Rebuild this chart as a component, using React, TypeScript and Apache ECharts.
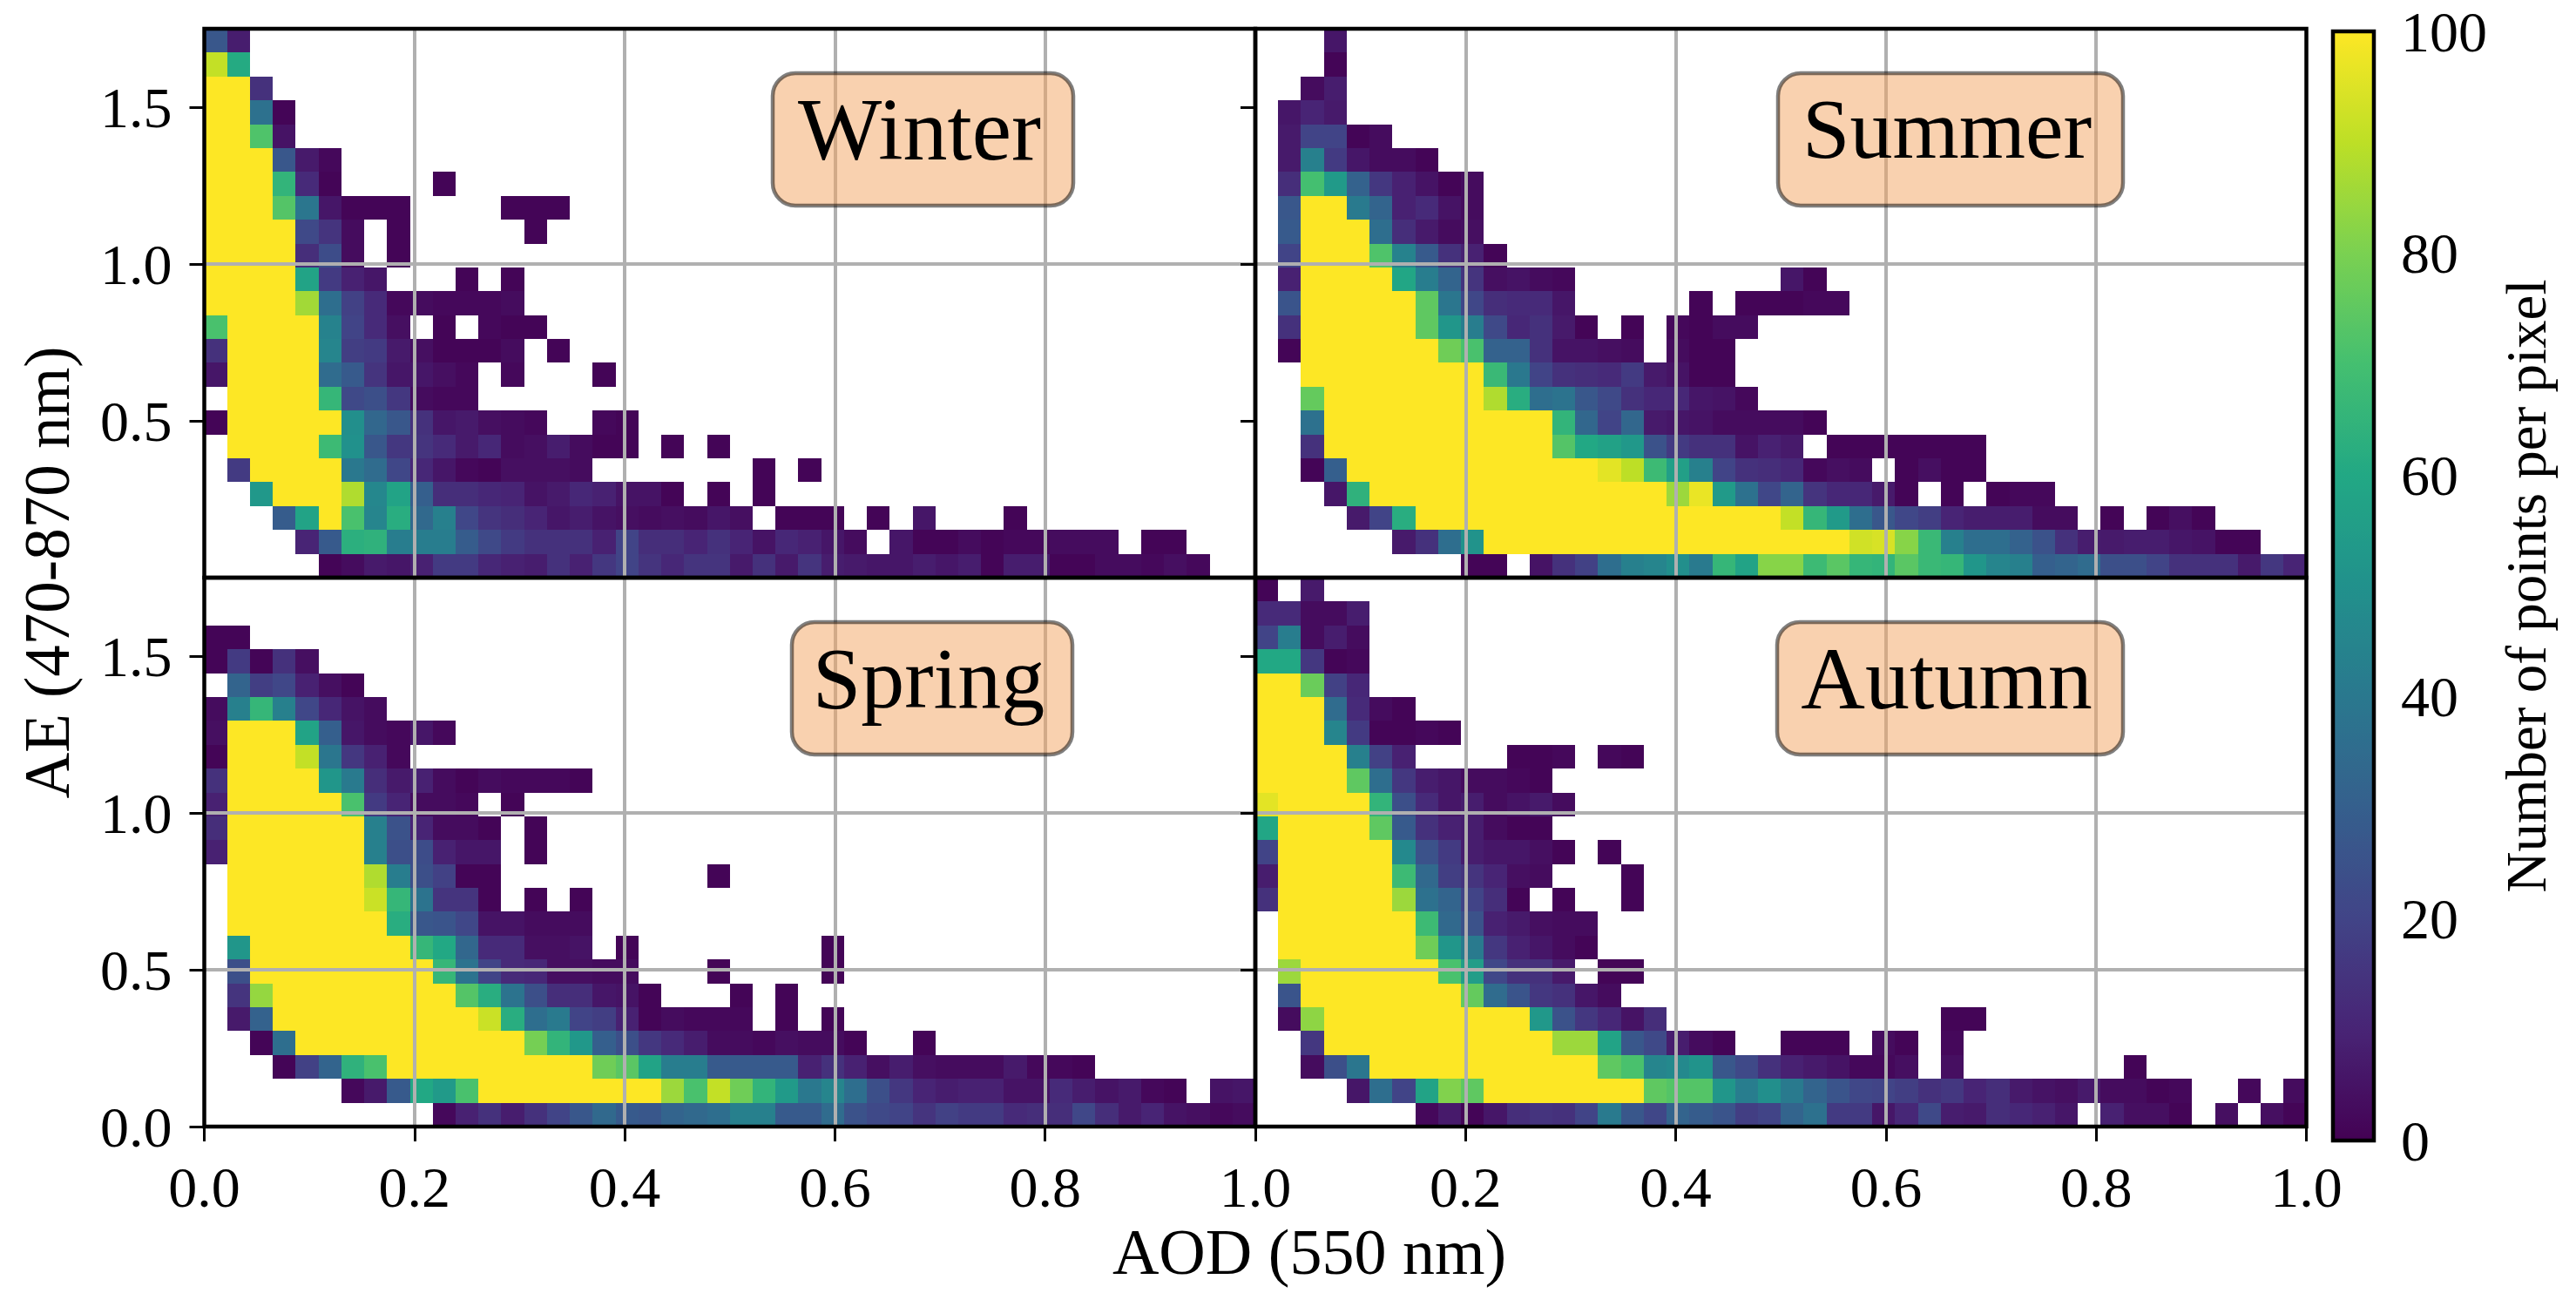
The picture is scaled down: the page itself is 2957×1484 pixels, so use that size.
import React, { useEffect, useRef } from "react";
import * as echarts from "echarts";

const FONT = '"Liberation Serif"';
const CHART_W = 2957;
const CHART_H = 1484;
const COLS = 46;
const ROWS = 23;
const X_MAX = 1;
const Y_MAX = 1.75;

const viridis = ["#440154", "#482475", "#414487", "#355f8d", "#2a788e", "#21918c", "#22a884", "#44bf70", "#7ad151", "#bddf26", "#fde725"];
const yTicksTop = [0.5, 1.0, 1.5];
const yTicksBottom = [0, 0.5, 1.0, 1.5];

// counts per cell, rows top (AE 1.75) to bottom (AE 0); columns AOD 0 to 1
const winter: number[][] = [
  [27, 8],
  [91, 61],
  [100, 100, 14],
  [100, 100, 37, 1],
  [100, 100, 72, 5],
  [100, 100, 100, 27, 7, 2],
  [100, 100, 100, 65, 12, 1, 0, 0, 0, 0, 1],
  [100, 100, 100, 73, 39, 6, 1, 1, 1, 0, 0, 0, 0, 1, 1, 1],
  [100, 100, 100, 100, 22, 15, 3, 0, 1, 0, 0, 0, 0, 0, 1],
  [100, 100, 100, 100, 13, 23, 3, 0, 1],
  [100, 100, 100, 100, 58, 17, 9, 6, 0, 0, 0, 1, 0, 1],
  [100, 100, 100, 100, 86, 36, 19, 12, 2, 3, 2, 2, 2, 3],
  [71, 100, 100, 100, 100, 44, 20, 12, 4, 0, 1, 0, 2, 1, 1],
  [14, 100, 100, 100, 100, 45, 18, 17, 7, 4, 1, 1, 1, 3, 0, 1],
  [6, 100, 100, 100, 100, 35, 28, 15, 6, 6, 4, 2, 0, 2, 0, 0, 0, 1],
  [0, 100, 100, 100, 100, 66, 22, 24, 16, 3, 2, 2],
  [1, 100, 100, 100, 100, 100, 49, 33, 27, 14, 6, 7, 4, 3, 2, 0, 0, 2, 1],
  [0, 100, 100, 100, 100, 68, 50, 27, 16, 15, 12, 7, 11, 3, 4, 8, 3, 1, 1, 0, 1, 0, 1],
  [0, 17, 100, 100, 100, 100, 40, 35, 21, 11, 6, 2, 1, 4, 4, 4, 3, 0, 0, 0, 0, 0, 0, 0, 1, 0, 1],
  [0, 0, 53, 100, 100, 100, 88, 46, 58, 30, 13, 13, 11, 10, 5, 7, 11, 9, 5, 5, 1, 0, 1, 0, 1],
  [0, 0, 0, 29, 58, 100, 71, 45, 62, 34, 43, 21, 15, 13, 10, 6, 8, 5, 4, 3, 4, 3, 6, 4, 0, 1, 1, 1, 0, 1, 0, 6, 0, 0, 0, 1],
  [0, 0, 0, 0, 10, 28, 63, 64, 42, 42, 42, 29, 22, 17, 14, 14, 14, 9, 20, 13, 13, 10, 14, 10, 5, 11, 9, 6, 3, 0, 6, 1, 1, 3, 1, 2, 2, 3, 3, 3, 0, 1, 1],
  [0, 0, 0, 0, 0, 1, 3, 7, 6, 9, 17, 17, 11, 9, 8, 14, 9, 16, 20, 15, 11, 15, 15, 7, 14, 7, 15, 8, 7, 6, 6, 8, 6, 8, 1, 8, 8, 1, 1, 3, 3, 2, 4, 2],
];

const summer: number[][] = [
  [0, 0, 0, 6],
  [0, 0, 0, 1],
  [0, 0, 3, 8],
  [0, 6, 10, 7],
  [0, 7, 20, 20, 1, 3],
  [0, 7, 43, 17, 6, 3, 3, 1],
  [0, 13, 70, 54, 31, 16, 9, 5, 1, 3],
  [0, 27, 100, 100, 41, 32, 9, 12, 5, 3],
  [0, 28, 100, 100, 100, 36, 13, 7, 3, 4],
  [0, 20, 100, 100, 100, 72, 44, 28, 14, 9, 1],
  [0, 9, 100, 100, 100, 100, 59, 42, 32, 15, 4, 5, 3, 2, 0, 0, 0, 0, 0, 0, 0, 0, 0, 6, 1],
  [0, 26, 100, 100, 100, 100, 100, 75, 39, 21, 13, 12, 12, 6, 0, 0, 0, 0, 0, 1, 0, 1, 1, 1, 2, 2],
  [0, 14, 100, 100, 100, 100, 100, 75, 52, 42, 22, 11, 14, 7, 1, 0, 1, 0, 2, 1, 3, 3],
  [0, 1, 100, 100, 100, 100, 100, 100, 78, 71, 31, 31, 14, 5, 5, 4, 3, 0, 3, 1, 1],
  [0, 0, 100, 100, 100, 100, 100, 100, 100, 100, 67, 40, 20, 14, 13, 12, 17, 7, 5, 1, 1],
  [0, 0, 76, 100, 100, 100, 100, 100, 100, 100, 88, 62, 36, 38, 27, 22, 14, 11, 11, 6, 5, 2],
  [0, 0, 37, 100, 100, 100, 100, 100, 100, 100, 100, 100, 100, 65, 33, 20, 33, 7, 6, 5, 3, 3, 3, 3, 1],
  [0, 0, 14, 100, 100, 100, 100, 100, 100, 100, 100, 100, 100, 73, 60, 57, 53, 25, 17, 14, 14, 5, 9, 7, 0, 1, 1, 1, 1, 1, 1, 1],
  [0, 0, 1, 30, 100, 100, 100, 100, 100, 100, 100, 100, 100, 100, 100, 96, 90, 68, 56, 43, 20, 14, 13, 11, 2, 4, 3, 0, 1, 4, 1, 1],
  [0, 0, 0, 6, 64, 100, 100, 100, 100, 100, 100, 100, 100, 100, 100, 100, 100, 100, 85, 97, 54, 37, 21, 32, 15, 11, 11, 7, 1, 0, 1, 0, 1, 2, 2],
  [0, 0, 0, 0, 7, 20, 62, 100, 100, 100, 100, 100, 100, 100, 100, 100, 100, 100, 100, 100, 100, 100, 100, 91, 66, 54, 36, 27, 21, 18, 10, 8, 8, 8, 3, 3, 0, 1, 0, 1, 4, 1],
  [0, 0, 0, 0, 0, 0, 7, 14, 36, 51, 100, 100, 100, 100, 100, 100, 100, 100, 100, 100, 100, 100, 100, 100, 100, 100, 93, 94, 82, 67, 43, 36, 36, 31, 25, 14, 8, 7, 8, 8, 6, 5, 1, 1],
  [0, 0, 0, 0, 0, 0, 0, 0, 0, 1, 1, 0, 5, 14, 19, 36, 43, 45, 49, 41, 66, 58, 82, 82, 68, 74, 66, 65, 74, 67, 66, 52, 45, 43, 30, 32, 35, 24, 24, 20, 14, 14, 14, 7, 16, 10],
];

const spring: number[][] = [
  [],
  [],
  [1, 1],
  [1, 17, 1, 14, 4],
  [0, 32, 18, 21, 9, 4, 1],
  [3, 43, 66, 43, 21, 11, 5, 3],
  [4, 100, 100, 100, 58, 30, 6, 3, 2, 6, 2],
  [1, 100, 100, 100, 91, 39, 16, 9, 2],
  [14, 100, 100, 100, 100, 52, 41, 13, 7, 9, 3, 1, 3, 2, 2, 2, 1],
  [9, 100, 100, 100, 100, 100, 71, 17, 10, 3, 3, 2, 0, 1],
  [13, 100, 100, 100, 100, 100, 100, 43, 25, 10, 3, 3, 1, 0, 1],
  [9, 100, 100, 100, 100, 100, 100, 43, 24, 23, 9, 6, 6, 0, 1],
  [0, 100, 100, 100, 100, 100, 100, 88, 42, 24, 19, 1, 1, 0, 0, 0, 0, 0, 0, 0, 0, 0, 1],
  [0, 100, 100, 100, 100, 100, 100, 92, 66, 38, 15, 15, 1, 0, 1, 0, 1],
  [0, 100, 100, 100, 100, 100, 100, 100, 62, 27, 26, 21, 5, 5, 3, 3, 3],
  [0, 52, 100, 100, 100, 100, 100, 100, 100, 66, 60, 33, 12, 12, 4, 4, 5, 0, 1, 0, 0, 0, 0, 0, 0, 0, 0, 1],
  [0, 24, 100, 100, 100, 100, 100, 100, 100, 100, 66, 38, 20, 12, 11, 4, 4, 3, 3, 0, 0, 0, 1, 0, 0, 0, 0, 1],
  [0, 15, 84, 100, 100, 100, 100, 100, 100, 100, 100, 73, 62, 38, 24, 13, 13, 6, 5, 1, 0, 0, 0, 1, 0, 1],
  [0, 7, 31, 100, 100, 100, 100, 100, 100, 100, 100, 100, 92, 62, 36, 41, 20, 18, 9, 1, 3, 2, 2, 2, 0, 1, 0, 1],
  [0, 0, 1, 36, 100, 100, 100, 100, 100, 100, 100, 100, 100, 100, 79, 65, 53, 30, 24, 16, 12, 8, 3, 3, 2, 4, 3, 3, 1, 0, 0, 1],
  [0, 0, 0, 1, 19, 32, 64, 71, 100, 100, 100, 100, 100, 100, 100, 100, 100, 78, 74, 58, 42, 42, 28, 28, 28, 28, 9, 14, 9, 4, 8, 4, 3, 3, 3, 7, 2, 2, 1],
  [0, 0, 0, 0, 0, 0, 2, 7, 28, 60, 54, 71, 100, 100, 100, 100, 100, 100, 100, 100, 85, 71, 91, 78, 65, 54, 40, 45, 36, 24, 16, 10, 8, 9, 9, 5, 5, 12, 8, 5, 7, 2, 1, 0, 5, 6],
  [0, 0, 0, 0, 0, 0, 0, 0, 0, 0, 2, 9, 14, 8, 14, 20, 27, 34, 28, 27, 32, 34, 36, 43, 43, 28, 28, 35, 25, 22, 20, 15, 19, 17, 17, 12, 13, 13, 21, 13, 7, 10, 5, 4, 2, 3],
];

const autumn: number[][] = [
  [1, 0, 7],
  [12, 12, 3, 3, 8],
  [20, 42, 3, 8, 3],
  [60, 60, 16, 1, 2],
  [100, 100, 77, 19, 11],
  [100, 100, 100, 35, 12, 3, 1],
  [100, 100, 100, 45, 17, 1, 1, 2, 1],
  [100, 100, 100, 100, 43, 19, 9, 0, 0, 0, 0, 1, 1, 2, 0, 2, 1],
  [100, 100, 100, 100, 75, 36, 16, 8, 6, 3, 3, 2, 1],
  [96, 100, 100, 100, 100, 65, 24, 12, 6, 8, 3, 5, 7, 3],
  [59, 100, 100, 100, 100, 75, 28, 14, 9, 8, 3, 1, 1],
  [20, 100, 100, 100, 100, 100, 47, 25, 17, 8, 6, 6, 4, 1, 0, 1],
  [8, 100, 100, 100, 100, 100, 68, 34, 18, 15, 10, 4, 3, 0, 0, 0, 1],
  [14, 100, 100, 100, 100, 100, 85, 37, 32, 20, 13, 1, 0, 1, 0, 0, 1],
  [0, 100, 100, 100, 100, 100, 100, 68, 34, 25, 9, 7, 4, 3, 3],
  [0, 100, 100, 100, 100, 100, 100, 78, 52, 41, 16, 9, 6, 3, 1],
  [0, 85, 100, 100, 100, 100, 100, 100, 71, 55, 21, 14, 14, 7, 0, 1, 1],
  [0, 26, 100, 100, 100, 100, 100, 100, 100, 76, 35, 26, 16, 14, 6, 3],
  [0, 3, 83, 100, 100, 100, 100, 100, 100, 100, 100, 100, 53, 25, 16, 11, 5, 13, 0, 0, 0, 0, 0, 0, 0, 0, 0, 0, 0, 0, 1, 1],
  [0, 0, 16, 100, 100, 100, 100, 100, 100, 100, 100, 100, 100, 85, 85, 58, 27, 22, 8, 3, 1, 0, 0, 1, 1, 1, 0, 3, 1, 0, 2],
  [0, 0, 3, 24, 39, 100, 100, 100, 100, 100, 100, 100, 100, 100, 100, 75, 71, 45, 47, 51, 27, 22, 14, 9, 7, 5, 2, 2, 4, 0, 4, 0, 0, 0, 0, 0, 0, 0, 1],
  [0, 0, 0, 0, 6, 36, 20, 58, 81, 75, 100, 100, 100, 100, 100, 100, 100, 75, 73, 73, 52, 42, 49, 41, 32, 26, 21, 20, 18, 14, 16, 10, 13, 7, 5, 4, 7, 3, 3, 1, 2, 0, 0, 2, 0, 3],
  [0, 0, 0, 0, 0, 0, 0, 2, 7, 1, 6, 13, 15, 14, 20, 41, 27, 21, 32, 29, 26, 18, 20, 32, 37, 17, 17, 6, 11, 22, 8, 7, 13, 11, 9, 6, 0, 9, 4, 4, 1, 0, 4, 0, 4, 1],
];

const panels = [winter, summer, spring, autumn];
const seasonLabels = ["Winter", "Summer", "Spring", "Autumn"];
const seasonFontSizes = [102, 98, 100, 102];

// layout, px
const PANEL_W = 1206.5;
const PANEL_H = 630;
const PANEL_X = [234.5, 1441];
const PANEL_Y = [33, 663];
const CB = { left: 2678, top: 36, width: 47, height: 1273 };
const BOXES = [
  { x: 887, y: 84, w: 345 },
  { x: 2041, y: 84, w: 396 },
  { x: 909, y: 714, w: 322 },
  { x: 2040, y: 714, w: 397 },
];
const BOX_H = 152;

const binW = X_MAX / COLS;
const binH = Y_MAX / ROWS;

function toCells(rows: number[][]) {
  const out: number[][] = [];
  rows.forEach((row, r) =>
    row.forEach((v, c) => {
      if (v > 0) out.push([(c + 0.5) * binW, (ROWS - r - 0.5) * binH, v]);
    })
  );
  return out;
}

function renderCell(_: any, api: any) {
  const cx = api.value(0);
  const cy = api.value(1);
  const a = api.coord([cx - binW / 2, cy + binH / 2]);
  const b = api.coord([cx + binW / 2, cy - binH / 2]);
  const x = Math.round(a[0]);
  const y = Math.round(a[1]);
  return {
    type: "rect",
    shape: { x, y, width: Math.round(b[0]) - x, height: Math.round(b[1]) - y },
    style: { fill: api.visual("color") },
  };
}

const tickLabel = { fontFamily: FONT, fontSize: 66, color: "#000" };
const gridLine = { show: true, showMinLine: false, showMaxLine: false, lineStyle: { color: "#b0b0b0", width: 4 } };
const tickLine = { color: "#000", width: 3 };

function buildOption() {
  const grids: any[] = [];
  const xAxes: any[] = [];
  const yAxes: any[] = [];
  const series: any[] = [];
  panels.forEach((rows, i) => {
    const col = i % 2;
    const row = i < 2 ? 0 : 1;
    grids.push({
      show: true,
      z: 5,
      left: PANEL_X[col],
      top: PANEL_Y[row],
      width: PANEL_W,
      height: PANEL_H,
      backgroundColor: "transparent",
      borderColor: "#000",
      borderWidth: 4.5,
    });
    xAxes.push({
      type: "value",
      gridIndex: i,
      min: 0,
      max: X_MAX,
      interval: 0.2,
      z: 3,
      axisLine: { show: false },
      axisTick: { show: row === 1, length: 17, lineStyle: tickLine },
      axisLabel: {
        ...tickLabel,
        show: row === 1,
        margin: 36,
        showMinLabel: col === 0,
        formatter: (v: number) => v.toFixed(1),
      },
      splitLine: gridLine,
    });
    const ticks = row === 0 ? yTicksTop : yTicksBottom;
    yAxes.push({
      type: "value",
      gridIndex: i,
      min: 0,
      max: Y_MAX,
      interval: 0.5,
      z: 3,
      axisLine: { show: false },
      axisTick: { show: true, length: 17, lineStyle: tickLine, customValues: ticks },
      axisLabel: {
        ...tickLabel,
        show: col === 0,
        margin: 37,
        customValues: ticks,
        formatter: (v: number) => v.toFixed(1),
      },
      splitLine: gridLine,
    });
    series.push({
      type: "custom",
      coordinateSystem: "cartesian2d",
      xAxisIndex: i,
      yAxisIndex: i,
      name: seasonLabels[i],
      encode: { x: 0, y: 1 },
      data: toCells(rows),
      renderItem: renderCell,
      silent: true,
    });
  });

  grids.push({
    show: true,
    z: 5,
    ...CB,
    backgroundColor: "transparent",
    borderColor: "#000",
    borderWidth: 4.5,
  });
  xAxes.push({ type: "value", gridIndex: 4, min: 0, max: 1, show: false });
  yAxes.push({
    type: "value",
    gridIndex: 4,
    position: "right",
    min: 0,
    max: 100,
    interval: 20,
    axisLine: { show: false },
    axisTick: { show: true, length: 17, lineStyle: tickLine },
    axisLabel: { ...tickLabel, margin: 31 },
    splitLine: { show: false },
    name: "Number of points per pixel",
    nameLocation: "middle",
    nameRotate: 90,
    nameGap: 142,
    nameTextStyle: { fontFamily: FONT, fontSize: 65, color: "#000" },
  });

  const graphic: any[] = [];
  BOXES.forEach((b, i) => {
    graphic.push({
      type: "rect",
      z: 10,
      silent: true,
      shape: { x: b.x, y: b.y, width: b.w, height: BOX_H, r: 26 },
      style: { fill: "rgba(244,164,96,0.5)", stroke: "rgba(0,0,0,0.5)", lineWidth: 4.5 },
    });
    graphic.push({
      type: "text",
      z: 11,
      silent: true,
      x: b.x + b.w / 2 - 4,
      y: b.y + 64,
      style: {
        text: seasonLabels[i],
        fill: "#000",
        font: `${seasonFontSizes[i]}px ${FONT}`,
        textAlign: "center",
        textVerticalAlign: "middle",
      },
    });
  });
  graphic.push({
    type: "text",
    z: 11,
    silent: true,
    x: 1503,
    y: 1437,
    style: { text: "AOD (550 nm)", fill: "#000", font: `74px ${FONT}`, textAlign: "center", textVerticalAlign: "middle" },
  });
  graphic.push({
    type: "text",
    z: 11,
    silent: true,
    x: 54,
    y: 657,
    rotation: Math.PI / 2,
    style: { text: "AE (470-870 nm)", fill: "#000", font: `73px ${FONT}`, textAlign: "center", textVerticalAlign: "middle" },
  });

  return {
    animation: false,
    backgroundColor: "#fff",
    grid: grids,
    xAxis: xAxes,
    yAxis: yAxes,
    series,
    graphic,
    visualMap: {
      type: "continuous",
      min: 0,
      max: 100,
      dimension: 2,
      seriesIndex: [0, 1, 2, 3],
      calculable: false,
      orient: "vertical",
      left: CB.left,
      top: CB.top,
      itemWidth: CB.width,
      itemHeight: CB.height,
      padding: 0,
      text: null,
      showLabel: false,
      inRange: { color: viridis },
    },
  };
}

export default function App() {
  const ref = useRef<HTMLDivElement>(null);
  useEffect(() => {
    document.body.style.margin = "0";
    const chart = echarts.init(ref.current!, null, { renderer: "svg" });
    chart.setOption(buildOption() as any);
    return () => chart.dispose();
  }, []);
  return <div ref={ref} style={{ width: CHART_W, height: CHART_H }} />;
}
